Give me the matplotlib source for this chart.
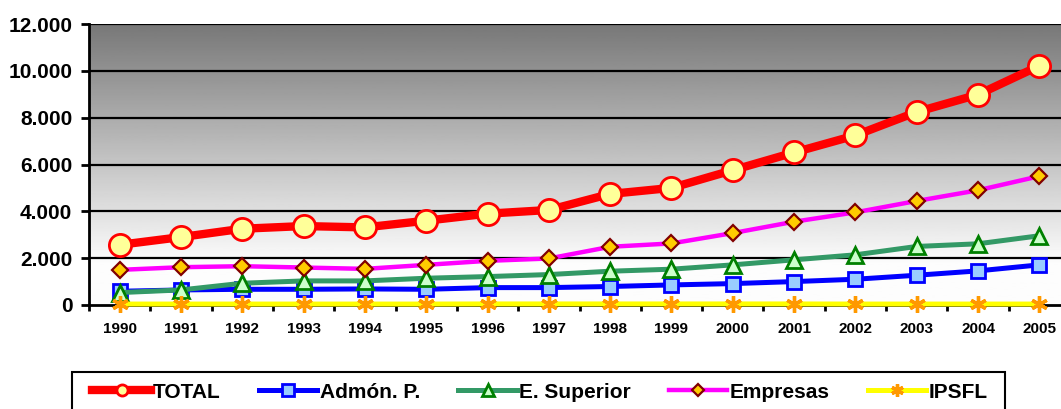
import numpy as np
import matplotlib.pyplot as plt
from matplotlib.lines import Line2D
from matplotlib.patches import Rectangle
from matplotlib.ticker import FuncFormatter, FixedLocator

plt.rcParams["font.family"] = ["Liberation Sans", "DejaVu Sans"]
plt.rcParams["font.weight"] = "bold"

years = ["1990", "1991", "1992", "1993", "1994", "1995", "1996", "1997",
         "1998", "1999", "2000", "2001", "2002", "2003", "2004", "2005"]
total = [2570, 2900, 3257, 3371, 3314, 3600, 3900, 4057,
         4743, 5000, 5757, 6514, 7243, 8243, 8986, 10214]
admon = [586, 643, 671, 671, 686, 671, 743, 743,
         790, 857, 914, 1000, 1100, 1271, 1457, 1714]
superior = [530, 643, 929, 1029, 1029, 1143, 1214, 1300,
            1443, 1529, 1714, 1929, 2143, 2500, 2614, 2957]
empresas = [1500, 1614, 1657, 1600, 1543, 1714, 1886, 1986,
            2486, 2629, 3071, 3557, 3957, 4443, 4900, 5500]
ipsfl = [40, 40, 40, 40, 40, 40, 45, 45, 45, 45, 45, 45, 40, 40, 40, 40]
yticks = [0, 2000, 4000, 6000, 8000, 10000, 12000]

W, H = 1061, 409
fig = plt.figure(figsize=(W / 100, H / 100), dpi=100)
ax = fig.add_axes([89 / W, 1 - 305 / H, 981 / W, 281 / H])

x = np.arange(len(years))
ax.set_xlim(-0.5, len(years) - 0.5)
ax.set_ylim(0, 12000)

# grey gradient background: dark at top, reaches white a bit above the baseline
grad = np.clip(np.linspace(0.47, 1.08, 256), 0, 0.99)[::-1].reshape(-1, 1)
ax.imshow(grad, cmap="gray", vmin=0, vmax=1, aspect="auto",
          extent=(-0.5, len(years) - 0.5, 0, 12000), origin="lower", zorder=0)

for yv in yticks[1:]:
    ax.axhline(yv, color="black", lw=1.6, zorder=1)

styles = {
    "TOTAL": dict(color="#ff0000", lw=6, marker="o", mfc="#ffff99", mec="#ff0000", mew=2),
    "Admón. P.": dict(color="#0000ff", lw=3.6, marker="s", mfc="#99ccff", mec="#0000ff", mew=2),
    "E. Superior": dict(color="#339966", lw=3.6, marker="^", mfc="#ccffcc", mec="#008000", mew=2),
    "Empresas": dict(color="#ff00ff", lw=3.2, marker="D", mfc="#ffcc00", mec="#800000", mew=1.6),
    "IPSFL": dict(color="#ffff00", lw=3.6, marker=(6, 2, 0), mec="#ff9900", mew=2.4),
}
sizes = {"TOTAL": 16, "Admón. P.": 10, "E. Superior": 11, "Empresas": 8, "IPSFL": 12}
leg_sizes = {"TOTAL": 8, "Admón. P.": 9, "E. Superior": 9, "Empresas": 6.5, "IPSFL": 9}

ax.plot(x, admon, ms=sizes["Admón. P."], zorder=3, clip_on=False, **styles["Admón. P."])
ax.plot(x, superior, ms=sizes["E. Superior"], zorder=4, clip_on=False, **styles["E. Superior"])
ax.plot(x, empresas, ms=sizes["Empresas"], zorder=5, clip_on=False, **styles["Empresas"])
ax.plot(x, total, ms=sizes["TOTAL"], zorder=6, clip_on=False, **styles["TOTAL"])
ax.plot(x, ipsfl, ms=sizes["IPSFL"], zorder=7, clip_on=False, **styles["IPSFL"])

for side in ["top", "right"]:
    ax.spines[side].set_visible(False)
ax.spines["left"].set_linewidth(2)
ax.spines["bottom"].set_linewidth(2)
ax.spines["left"].set_zorder(8)
ax.spines["bottom"].set_zorder(2)

ax.set_yticks(yticks)
ax.yaxis.set_major_formatter(FuncFormatter(lambda v, p: f"{int(v):,}".replace(",", ".")))
ax.tick_params(axis="y", direction="out", length=6, width=2, pad=6, labelsize=15)

ax.set_xticks(x)
ax.set_xticklabels(years)
ax.xaxis.set_minor_locator(FixedLocator(np.arange(-0.5, len(years), 1)))
ax.tick_params(axis="x", which="major", length=0, pad=12, labelsize=11)
ax.tick_params(axis="x", which="minor", direction="out", length=4, width=2)

# legend: entries centred at (538, 392) px, frame drawn separately (bottom runs off the figure)
names = list(styles.keys())
handles = [Line2D([], [], ms=leg_sizes[n], **styles[n]) for n in names]
leg = fig.legend(handles, names,
                 loc="center", bbox_to_anchor=(540 / W, 1 - 392 / H),
                 bbox_transform=fig.transFigure, ncol=5,
                 fontsize=15, frameon=False,
                 handlelength=2.8, handletextpad=0.1, columnspacing=1.85,
                 borderpad=0, borderaxespad=0)
for t in leg.get_texts():
    t.set_fontweight("bold")
fig.patches.append(Rectangle((72 / W, -0.05), 933 / W, 0.05 + 1 - 372 / H,
                             transform=fig.transFigure, fill=False,
                             edgecolor="black", lw=1.5))

fig.savefig("out.png", dpi=100)
